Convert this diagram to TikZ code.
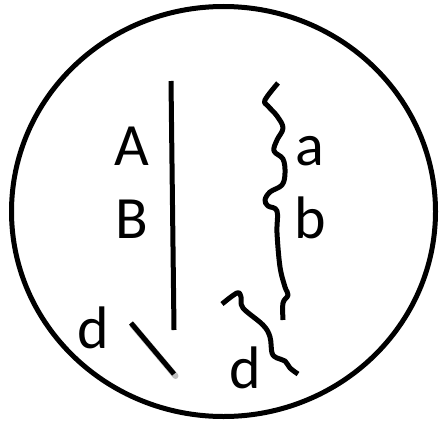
\documentclass[tikz,border=0pt]{standalone}
\usepackage{fontspec}
\setmainfont{Carlito}
\begin{document}
\begin{tikzpicture}[x=1pt,y=-1pt,
  lbl/.style={anchor=base,inner sep=0pt,font=\fontsize{60}{60}\selectfont},
  stroke/.style={line width=5pt,black}]
\useasboundingbox (0,0) rectangle (443,425);
\draw[line width=5pt] (223.5,211.5) ellipse [x radius=212, y radius=205];
\coordinate (v1) at (171,81);
\coordinate (v2) at (174,330);
\draw[stroke] (v1) -- (v2);
\node[lbl] (A) at (132,165) {A};
\node[lbl] (B) at (132,238) {B};
\node[lbl] (a) at (310,165) {a};
\node[lbl] (b) at (310,238) {b};
\node[lbl] (d1) at (93,348) {d};
\node[lbl] (d2) at (245,388) {d};
\coordinate (s1) at (131,323);
\coordinate (s2) at (174,374);
\draw[line width=6pt,black!25,line cap=round] ([shift={(1.5,2)}]s1) -- ([shift={(1.5,2)}]s2);
\draw[stroke] (s1) -- (s2);
\draw[stroke,line join=round] plot[smooth,tension=0.6] coordinates {(278,83) (265,100) (268,106) (277,116) (283,128) (277,140) (274,151) (283,159) (285,173) (282,185) (270,192) (265,200) (268,206) (277,211) (277,233) (280,267) (285,287) (288,295) (283,303) (283,320)};
\draw[stroke,line join=round] plot[smooth,tension=0.6] coordinates {(222,304) (237,293) (241,297) (243,308) (263,325) (270,337) (272,353) (277,358) (285,361) (290,368) (298,374)};
\end{tikzpicture}
\end{document}
